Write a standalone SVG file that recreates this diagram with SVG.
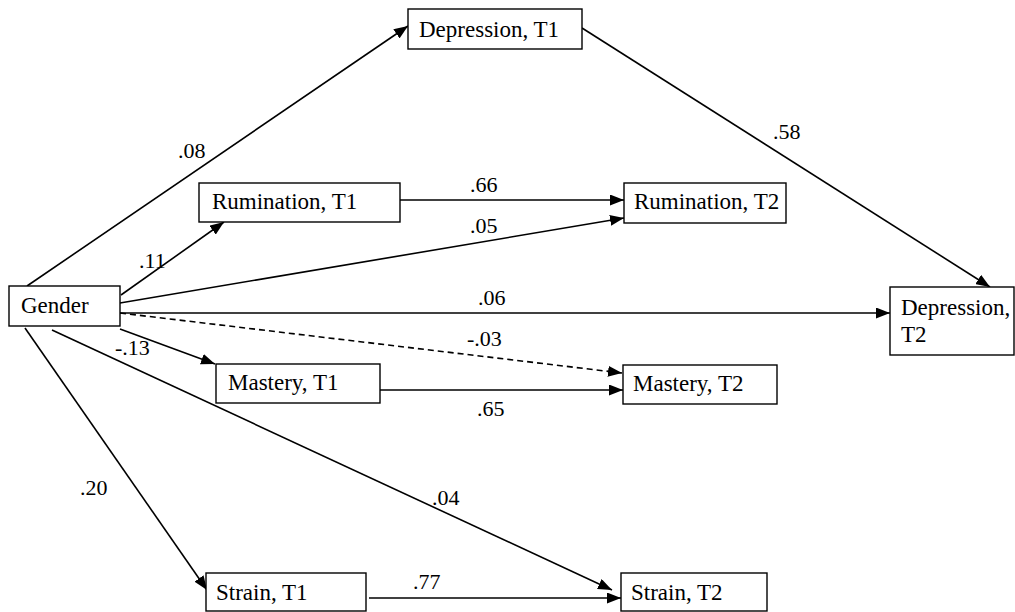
<svg xmlns="http://www.w3.org/2000/svg" width="1015" height="612" viewBox="0 0 1015 612">
<style>
.box{fill:#fff;stroke:#000;stroke-width:1.4}
text{font-family:'Liberation Serif','DejaVu Serif',serif;font-size:23px;fill:#000}
.lbl text{font-size:22px}
.c{stroke:#000;stroke-width:1.6;fill:none;marker-end:url(#ah)}
.d{stroke-dasharray:6,4}
</style>
<defs>
<marker id="ah" markerUnits="userSpaceOnUse" markerWidth="15" markerHeight="11" refX="14" refY="5.5" orient="auto">
<path d="M0,0 L14,5.5 L0,11 z" fill="#000"/>
</marker>
</defs>
<rect width="1015" height="612" fill="#fff"/>
<g id="connectors">
<line class="c" x1="27" y1="286" x2="408" y2="26"/>
<line class="c" x1="121" y1="295" x2="224" y2="222"/>
<line class="c" x1="400" y1="200" x2="624" y2="200"/>
<line class="c" x1="120" y1="303" x2="624" y2="218"/>
<line class="c" x1="120" y1="313" x2="890" y2="313"/>
<line class="c d" x1="120" y1="313" x2="622" y2="373"/>
<line class="c" x1="120" y1="329" x2="215" y2="364"/>
<line class="c" x1="380" y1="390" x2="623" y2="390"/>
<line class="c" x1="52" y1="330" x2="612" y2="590"/>
<line class="c" x1="25" y1="328" x2="207" y2="590"/>
<line class="c" x1="369" y1="598" x2="621" y2="598"/>
<line class="c" x1="582" y1="28" x2="990" y2="287"/>
<g class="lbl" font-family="Liberation Serif, serif">
<text x="178" y="158">.08</text>
<text x="139" y="268">.11</text>
<text x="470" y="192">.66</text>
<text x="470" y="233">.05</text>
<text x="773" y="139">.58</text>
<text x="478" y="305">.06</text>
<text x="467" y="346">-.03</text>
<text x="115" y="355">-.13</text>
<text x="477" y="416">.65</text>
<text x="80" y="495">.20</text>
<text x="432" y="505">.04</text>
<text x="413" y="589">.77</text>
</g>
</g>
<g id="gender" font-family="Liberation Serif, serif"><rect class="box" x="9" y="286" width="111" height="40"/><text x="21" y="313">Gender</text></g>
<g id="dep1" font-family="Liberation Serif, serif"><rect class="box" x="408" y="9" width="174" height="40"/><text x="419" y="37">Depression, T1</text></g>
<g id="rum1" font-family="Liberation Serif, serif"><rect class="box" x="199" y="183" width="201" height="39"/><text x="212" y="209">Rumination, T1</text></g>
<g id="rum2" font-family="Liberation Serif, serif"><rect class="box" x="624" y="183" width="162" height="40"/><text x="634" y="209">Rumination, T2</text></g>
<g id="dep2" font-family="Liberation Serif, serif"><rect class="box" x="890" y="287" width="124" height="68"/><text x="901" y="315">Depression,</text><text x="901" y="342">T2</text></g>
<g id="mas1" font-family="Liberation Serif, serif"><rect class="box" x="216" y="364" width="164" height="39"/><text x="228" y="390">Mastery, T1</text></g>
<g id="mas2" font-family="Liberation Serif, serif"><rect class="box" x="623" y="365" width="154" height="39"/><text x="633" y="391">Mastery, T2</text></g>
<g id="str1" font-family="Liberation Serif, serif"><rect class="box" x="206" y="573" width="160" height="38"/><text x="216" y="600">Strain, T1</text></g>
<g id="str2" font-family="Liberation Serif, serif"><rect class="box" x="621" y="573" width="146" height="38"/><text x="631" y="600">Strain, T2</text></g>
</svg>
